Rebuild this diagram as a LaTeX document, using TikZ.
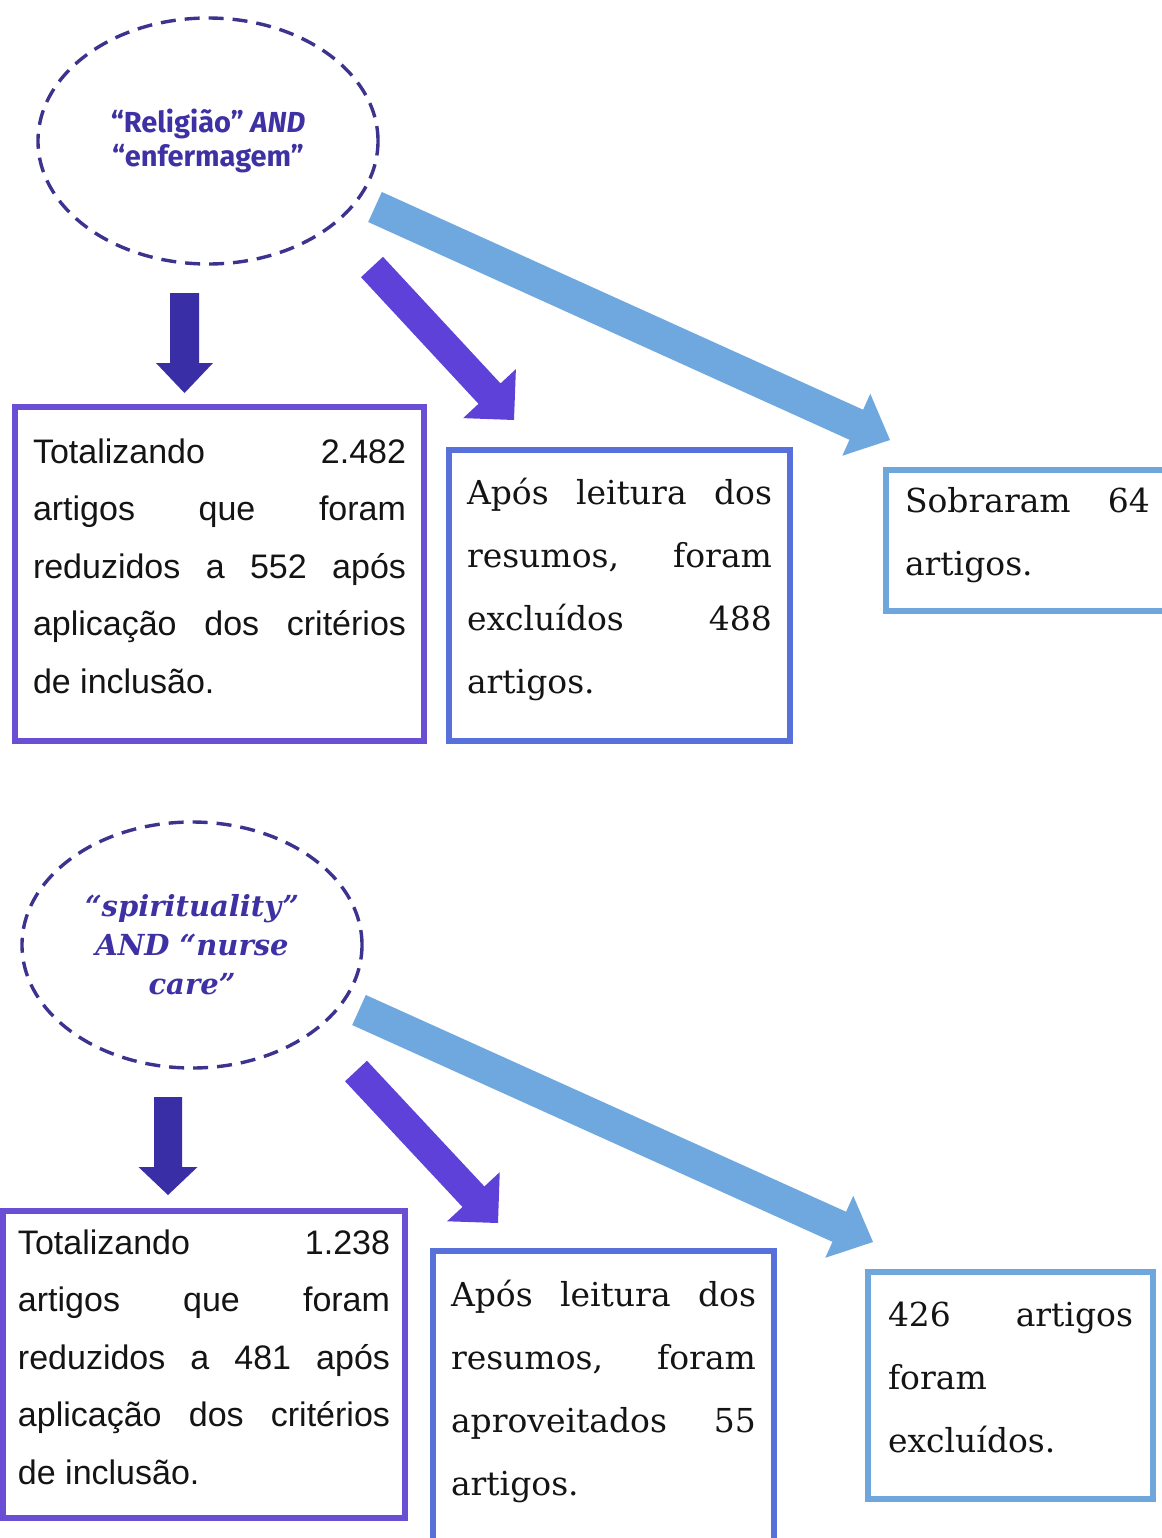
\documentclass[tikz,border=0pt]{standalone}
\usepackage{fontspec}
\usetikzlibrary{calc,shapes.geometric}
\newfontfamily\boxsans{Liberation Sans}
\newfontfamily\boxserif{DejaVu Serif}
\newfontfamily\ellsans{Fira Sans}
\definecolor{ellc}{HTML}{3C338F}
\definecolor{elltext}{HTML}{3E31A3}
\definecolor{downc}{HTML}{3A2EA6}
\definecolor{midc}{HTML}{5E41D9}
\definecolor{lightc}{HTML}{6EA8DE}
\definecolor{c1}{HTML}{6A4ED3}
\definecolor{c2}{HTML}{5870D9}
\definecolor{c3}{HTML}{6FA6DC}
\definecolor{txt}{HTML}{141414}
% #1 height, #2 width, #3 first-line height, #4 text
\newcommand\bxt[4]{\parbox[c][#1][t]{#2}{\rule{0pt}{#3}#4}}
% #1 colour, #2 start, #3 end, #4 half shaft, #5 half head, #6 head length
\newcommand\blockarrow[6]{%
  \coordinate (#3-b) at ($(#3)!#6!(#2)$);
  \fill[#1] ($(#2)!#4!90:(#3)$) -- ($(#3-b)!#4!90:(#3)$) -- ($(#3-b)!#5!90:(#3)$)
    -- (#3) -- ($(#3-b)!#5!-90:(#3)$) -- ($(#3-b)!#4!-90:(#3)$)
    -- ($(#2)!#4!-90:(#3)$) -- cycle;}
\tikzset{
  ell/.style={ellipse, draw=ellc, dash pattern=on 7.5pt off 4.5pt, line width=1.7pt,
    inner sep=0pt, minimum width=170pt, minimum height=123pt, text=elltext, align=center},
  sbox/.style={rectangle, anchor=north west, outer sep=0pt, inner ysep=0pt,
    line width=3pt, text=txt, fill=white},
  sansbox/.style={sbox, font=\boxsans\fontsize{17}{28.75}\selectfont},
  serifbox/.style={sbox, font=\boxserif\fontsize{16.5}{31.5}\selectfont},
}
\begin{document}
\begin{tikzpicture}[x=0.5pt,y=-0.5pt]
\useasboundingbox (0,0) rectangle (1162,1538);
\fill[white] (0,0) rectangle (1162,1538);
\clip (0,0) rectangle (1162,1538);

% ---------- top part ----------
\node[ell, font=\ellsans\bfseries\fontsize{14.5}{17}\selectfont] (e1) at (208,141)
  {“Religião” \textit{AND}\\“enfermagem”};

\coordinate (d1s) at (184.5,293);
\coordinate (d1e) at (184.5,393);
\coordinate (m1s) at (372,267);
\coordinate (m1e) at (514,420);
\coordinate (l1s) at (375,207);
\coordinate (l1e) at (890,440);
\blockarrow{downc}{d1s}{d1e}{7.25pt}{14.25pt}{15pt}
\blockarrow{midc}{m1s}{m1e}{7.5pt}{18pt}{18pt}
\blockarrow{lightc}{l1s}{l1e}{8.25pt}{17pt}{18.5pt}

\node[sansbox, draw=c1, inner xsep=9pt] (b1) at (15,407)
  {\bxt{167pt}{186.5pt}{28pt}{Totalizando\hfill 2.482\\
   artigos\hfill que\hfill foram\\
   reduzidos\hfill a\hfill 552\hfill após\\
   aplicação\hfill dos\hfill critérios\\
   de inclusão.}};

\node[serifbox, draw=c2, inner xsep=9pt] (b2) at (449,450)
  {\bxt{145.5pt}{152.5pt}{27pt}{Após\hfill leitura\hfill dos\\
   resumos,\hfill foram\\
   excluídos\hfill 488\\
   artigos.}};

\node[serifbox, draw=c3, inner xsep=9.5pt] (b3) at (886,470)
  {\bxt{70.5pt}{122.5pt}{21pt}{Sobraram\hfill 64\\
   artigos.}};

% ---------- bottom part ----------
\node[ell, font=\boxserif\bfseries\itshape\fontsize{14.5}{19.5}\selectfont] (e2) at (192,945)
  {“spirituality”\\AND “nurse\\care”};

\coordinate (d2s) at (168,1097);
\coordinate (d2e) at (168,1195);
\coordinate (m2s) at (356,1071);
\coordinate (m2e) at (498,1223);
\coordinate (l2s) at (359,1010);
\coordinate (l2e) at (873,1242);
\blockarrow{downc}{d2s}{d2e}{7pt}{14.75pt}{14pt}
\blockarrow{midc}{m2s}{m2e}{7.5pt}{18pt}{18pt}
\blockarrow{lightc}{l2s}{l2e}{8.25pt}{17pt}{18.5pt}

\node[sansbox, draw=c1, inner xsep=7.5pt] (b4) at (3,1211)
  {\bxt{153.5pt}{186pt}{21.5pt}{Totalizando\hfill 1.238\\
   artigos\hfill que\hfill foram\\
   reduzidos\hfill a\hfill 481\hfill após\\
   aplicação\hfill dos\hfill critérios\\
   de inclusão.}};

\node[serifbox, draw=c2, inner xsep=9pt] (b5) at (433,1251)
  {\bxt{155pt}{152.5pt}{27.5pt}{Após\hfill leitura\hfill dos\\
   resumos,\hfill foram\\
   aproveitados\hfill 55\\
   artigos.}};

\node[serifbox, draw=c3, inner xsep=10pt] (b6) at (868,1272)
  {\bxt{113.5pt}{122.5pt}{27pt}{426\hfill artigos\\
   foram\\
   excluídos.}};
\end{tikzpicture}
\end{document}
